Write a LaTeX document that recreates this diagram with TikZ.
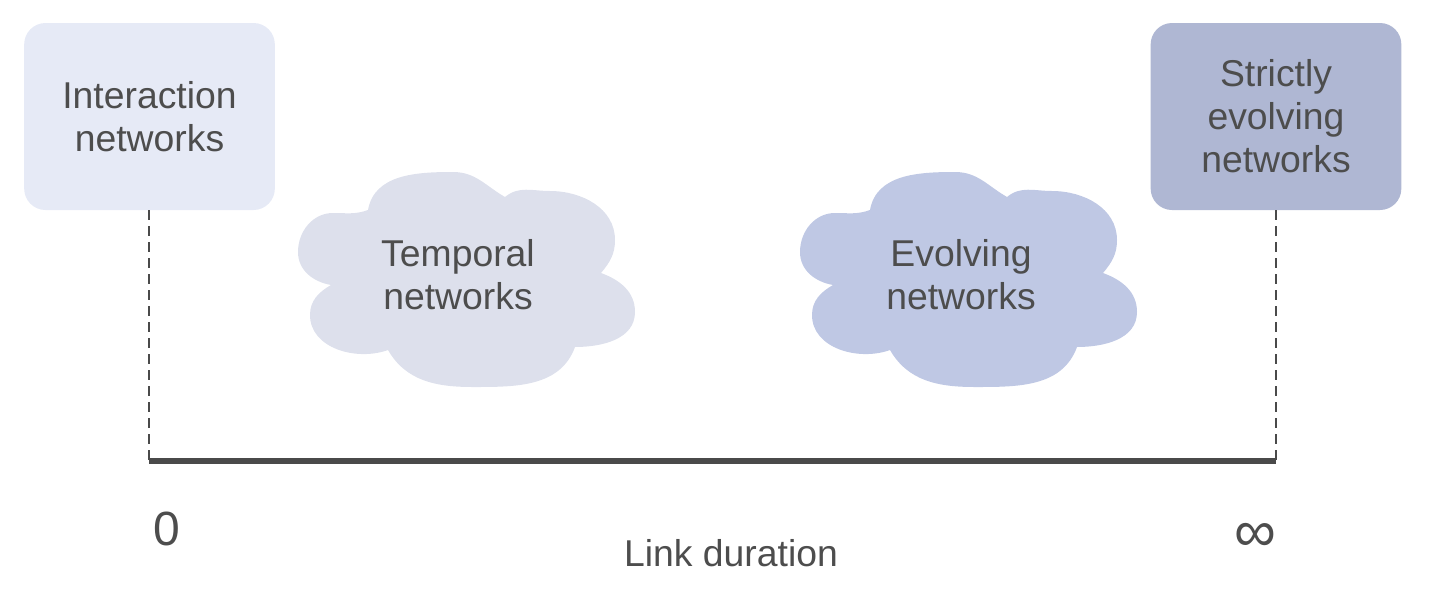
\documentclass[tikz,border=0pt]{standalone}
\usepackage{fontspec}
\setmainfont{Liberation Sans}
\definecolor{txt}{HTML}{4D4D4D}
\definecolor{axiscol}{HTML}{4A4A4A}
\definecolor{boxA}{HTML}{E6EAF6}
\definecolor{boxB}{HTML}{AFB7D3}
\definecolor{cloudA}{HTML}{DDE0EC}
\definecolor{cloudB}{HTML}{BFC8E4}
\tikzset{
  lbl/.style={text=txt, font=\fontsize{28}{32.25}\selectfont, align=center, inner sep=0pt},
  netbox/.style={lbl, rounded corners=16pt, minimum width=188pt, minimum height=140.25pt},
  guide/.style={axiscol, line width=1.7pt, dash pattern=on 7pt off 5pt},
  axisline/.style={axiscol, line width=4pt},
  pics/cloudshape/.style={code={
    \fill[#1] (-95,68) to[out=80,in=180] (-10,106) to[out=0,in=150] (42,81)
      to[out=40,in=180] (87,87) to[out=0,in=90] (152,38) to[out=-90,in=50] (138,5)
      to[out=-20,in=90] (172,-34) to[out=-90,in=0] (112,-69)
      to[out=-110,in=0] (10,-109) to[out=180,in=-60] (-75,-72)
      to[out=-160,in=-90] (-153,-37) to[out=90,in=-150] (-132,-7)
      to[out=170,in=-90] (-165,26) to[out=90,in=180] (-130,65) to[out=0,in=-160] (-95,68) -- cycle;
  }}
}
\begin{document}
\begin{tikzpicture}[x=0.75pt,y=0.75pt]
\useasboundingbox (0,0) rectangle (1432,-590);
% boxes
\node[netbox, fill=boxA] (inter) at (149.5,-116.5) {Interaction\\networks};
\node[netbox, fill=boxB] (strict) at (1276,-116.5) {Strictly\\evolving\\networks};
% clouds
\pic at (965,-278) {cloudshape=cloudB};
\pic at (463,-278) {cloudshape=cloudA};
\node[lbl] (temporal) at (458,-275) {Temporal\\networks};
\node[lbl] (evolving) at (961,-275) {Evolving\\networks};
% axis
\coordinate (a0) at (149,-461);
\coordinate (ainf) at (1276,-461);
\draw[guide] (inter.south -| a0) -- (a0);
\draw[guide] (strict.south) -- (ainf);
\draw[axisline] (a0) -- (ainf);
% labels
\node[lbl, font=\fontsize{36}{40}\selectfont, anchor=base] (zero) at (167,-545) {0};
\node[lbl, font=\fontsize{44}{48}\selectfont] (inf) at (1255,-537) {∞};
\node[lbl, anchor=base] (dur) at (731,-566) {Link duration};
\end{tikzpicture}
\end{document}
